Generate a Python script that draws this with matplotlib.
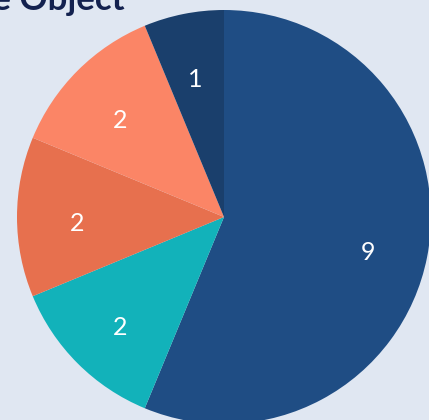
import matplotlib
matplotlib.use("Agg")
import matplotlib.pyplot as plt

categories = ["A", "B", "C", "D", "E"]
values = [9, 2, 2, 2, 1]
colors = ["#1f4d84", "#12b2ba", "#e7704e", "#fb8566", "#1a3f6c"]
title = "Distribution by Type of the Object"

W, H = 429, 420
fig = plt.figure(figsize=(W / 100, H / 100), dpi=100)
fig.patch.set_facecolor("#e0e7f2")
ax = fig.add_axes([0, 0, 1, 1])
ax.set_facecolor("#e0e7f2")

wedges, texts = ax.pie(
    values,
    labels=[str(v) for v in values],
    colors=colors,
    startangle=90,
    counterclock=False,
    center=(224, H - 217),
    radius=207,
    labeldistance=0.71,
    textprops=dict(color="white", fontsize=18, family=["Lato", "DejaVu Sans"]),
    frame=True,
)
for t in texts:
    t.set_ha("center")
    t.set_va("center")
    x, y = t.get_position()
    t.set_position((x, y - 7))
ax.set_xlim(0, W)
ax.set_ylim(0, H)
ax.set_aspect("auto")
ax.axis("off")

ax.text(125, H - 10, title, ha="right", va="baseline", fontsize=25,
        fontweight="bold", color="#13214f", family=["Lato", "DejaVu Sans"])

fig.savefig("out.png", dpi=100, facecolor=fig.get_facecolor())
